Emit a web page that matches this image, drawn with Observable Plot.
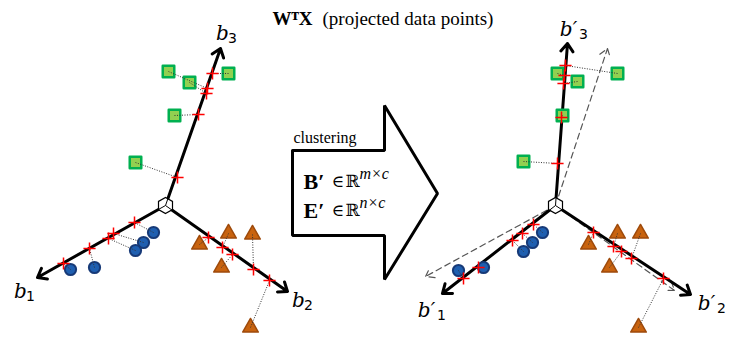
<!DOCTYPE html>
<html><head><meta charset="utf-8">
<script src="https://cdn.jsdelivr.net/npm/d3@7"></script>
<script src="https://cdn.jsdelivr.net/npm/@observablehq/plot@0.6"></script>
<style>body{margin:0;background:#fff} svg{display:block}</style>
</head><body><div id="chart"></div>
<script>
// ---- data (diagram coordinates, y measured downward) ----
const originL = [165, 205];
const originR = [555, 205];
const axisTipsL = [[37, 277], [287, 291], [220, 48]];
const axisTipsR = [[442, 293], [690, 294], [567, 43]];
const guideTipsR = [[425, 276], [674, 290], [607, 48]];
const axisSubs = ["1", "2", "3"];
const axisLabelL = [[20, 291], [298, 300], [222, 33]];
const axisLabelR = [[426, 310], [706, 303], [568, 29]];

const squaresL = [[168, 71], [189, 82], [228, 73], [174, 115], [135, 162]];
const squaresLProj = [[207, 88], [206, 93], [212, 73], [198, 114], [177, 177]];
const circlesL = [[153, 232], [143, 242], [135, 250], [94, 267], [70, 269]];
const circlesLProj = [[134, 222], [113, 233], [108, 238], [89, 248], [63, 263]];
const trianglesL = [[199, 244], [228, 233], [252, 234], [221, 267], [250, 327]];
const trianglesLProj = [[208, 237], [222, 247], [253, 269], [232, 254], [269, 280]];

const squaresR = [[557, 73], [577, 81], [617, 73], [562, 115], [523, 161]];
const squaresRProj = [[564, 75], [563, 83], [565, 65], [561, 117], [557, 163]];
const circlesR = [[542, 232], [532, 242], [523, 251], [483, 267], [458, 270]];
const circlesRProj = [[533, 224], [522, 233], [512, 240], [478, 267], [463, 278]];
const trianglesR = [[588, 244], [617, 233], [640, 233], [609, 267], [638, 327]];
const trianglesRProj = [[593, 232], [613, 246], [631, 258], [621, 251], [663, 278]];

const bigArrow = [[292, 150], [384, 150], [384, 105], [437, 193], [384, 279], [384, 235], [292, 235], [292, 150]];
const arrowCaption = "clustering";
const captionPos = [293, 137];
const mathNames = ["B′", "E′"];
const mathSups = ["m×c", "n×c"];
const mathRows = [181, 210];
const titleBold = "WᵀX";
const titleRest = "(projected data points)";
const titlePos = [272, 18];

// ---- derived tables ----
const P = d => d[0], Q = d => d[1];
const axes = (o, tips) => tips.map(t => ({x1: o[0], y1: o[1], x2: t[0], y2: t[1]}));
const inner = (o, tips) => tips.map(t => {
  const L = Math.hypot(t[0] - o[0], t[1] - o[1]);
  return {x1: o[0], y1: o[1], x2: o[0] + (t[0] - o[0]) * 8 / L, y2: o[1] + (t[1] - o[1]) * 8 / L};
});
const pairs = (a, b) => a.map((p, i) => ({x1: p[0], y1: p[1], x2: b[i][0], y2: b[i][1]}));
const allLinks = [
  ...pairs(squaresL, squaresLProj), ...pairs(circlesL, circlesLProj), ...pairs(trianglesL, trianglesLProj),
  ...pairs(squaresR, squaresRProj), ...pairs(circlesR, circlesRProj), ...pairs(trianglesR, trianglesRProj)
];
const allProj = [...squaresLProj, ...circlesLProj, ...trianglesLProj, ...squaresRProj, ...circlesRProj, ...trianglesRProj];
const labelsL = axisLabelL.map((p, i) => ({x: p[0], y: p[1], t: "b", s: axisSubs[i]}));
const labelsR = axisLabelR.map((p, i) => ({x: p[0], y: p[1], t: "b′", s: axisSubs[i]}));
const serif = "Liberation Serif, DejaVu Serif, serif";
const mathFont = "DejaVu Serif, serif";

const chart = Plot.plot({
  width: 734, height: 339, margin: 0,
  x: {domain: [0, 734], range: [0, 734], axis: null},
  y: {domain: [0, 339], range: [0, 339], axis: null},
  style: {background: "white"},
  marks: [
    // middle arrow
    Plot.line(bigArrow, {x: P, y: Q, stroke: "black", strokeWidth: 3, strokeLinejoin: "miter", fill: "white"}),
    Plot.text([arrowCaption], {x: captionPos[0], y: captionPos[1], text: d => d, textAnchor: "start", fontSize: 16, fontFamily: serif, fill: "black"}),
    Plot.text(mathNames, {x: 303, y: (d, i) => mathRows[i], text: d => d, textAnchor: "start", fontSize: 22, fontWeight: "bold", fontFamily: serif, fill: "black"}),
    Plot.text(mathNames, {x: 331, y: (d, i) => mathRows[i], text: () => "∈", textAnchor: "start", fontSize: 17, fontFamily: mathFont, fill: "black"}),
    Plot.text(mathNames, {x: 345, y: (d, i) => mathRows[i], text: () => "ℝ", textAnchor: "start", fontSize: 17, fontFamily: mathFont, fill: "black"}),
    Plot.text(mathSups, {x: 359, y: (d, i) => mathRows[i] - 8, text: d => d, textAnchor: "start", fontSize: 16, fontStyle: "italic", fontFamily: serif, fill: "black"}),
    // title
    Plot.text([titleBold], {x: titlePos[0], y: titlePos[1], text: d => d, textAnchor: "start", fontSize: 19, fontWeight: "bold", fontFamily: serif, fill: "black"}),
    Plot.text([titleRest], {x: titlePos[0] + 50, y: titlePos[1], text: d => d, textAnchor: "start", fontSize: 19, fontFamily: serif, fill: "black"}),
    // dashed guide arrows (right)
    Plot.arrow(axes(originR, guideTipsR), {x1: "x1", y1: "y1", x2: "x2", y2: "y2", stroke: "#555", strokeWidth: 1.2, strokeDasharray: "6,4", headLength: 12, headAngle: 70}),
    // axes
    Plot.arrow([...axes(originL, axisTipsL), ...axes(originR, axisTipsR)], {x1: "x1", y1: "y1", x2: "x2", y2: "y2", stroke: "black", strokeWidth: 3, headLength: 5, headAngle: 75}),
    Plot.dot([originL, originR], {x: P, y: Q, symbol: "hexagon", r: 7, fill: "white", stroke: "black", strokeWidth: 1.2}),
    Plot.link([...inner(originL, axisTipsL), ...inner(originR, axisTipsR)], {x1: "x1", y1: "y1", x2: "x2", y2: "y2", stroke: "black", strokeWidth: 1}),
    // points
    Plot.dot([...squaresL, ...squaresR], {x: P, y: Q, symbol: "square", r: 6.5, fill: "#92d050", stroke: "#00b050", strokeWidth: 2.5, strokeLinejoin: "round"}),
    Plot.dot([...circlesL, ...circlesR], {x: P, y: Q, r: 5.6, fill: "#1f5fb0", stroke: "#173a78", strokeWidth: 2}),
    Plot.dot([...trianglesL, ...trianglesR], {x: P, y: Q, symbol: "triangle", r: 5.8, fill: "#c8630f", stroke: "#9e4a0b", strokeWidth: 1.5, strokeLinejoin: "round"}),
    // projection lines
    Plot.link(allLinks, {x1: "x1", y1: "y1", x2: "x2", y2: "y2", stroke: "#333", strokeWidth: 1, strokeDasharray: "1,1.5"}),
    // projected points
    Plot.dot(allProj, {x: P, y: Q, symbol: "plus", r: 4, stroke: "red", strokeWidth: 1.5, fill: "none"}),
    // axis labels
    Plot.text([...labelsL, ...labelsR], {x: "x", y: "y", text: "t", fontSize: 20, fontStyle: "italic", fontFamily: mathFont, fill: "black"}),
    Plot.text(labelsL, {x: "x", y: "y", text: "s", dx: 10, dy: 5, fontSize: 14, fontFamily: "DejaVu Sans, sans-serif", fill: "black"}),
    Plot.text(labelsR, {x: "x", y: "y", text: "s", dx: 15, dy: 5, fontSize: 14, fontFamily: "DejaVu Sans, sans-serif", fill: "black"})
  ]
});
document.getElementById("chart").append(chart);
</script>
</body></html>
